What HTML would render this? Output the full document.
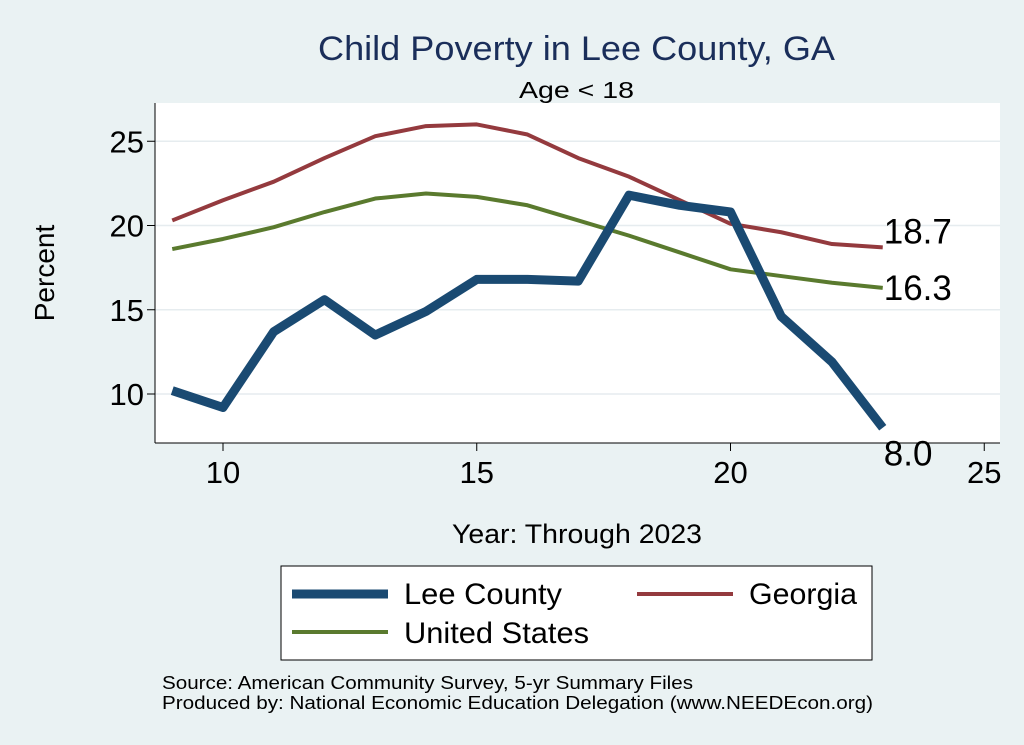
<!DOCTYPE html>
<html><head><meta charset="utf-8"><style>
body{margin:0;background:#eaf2f3;}
svg{display:block;font-family:"Liberation Sans",sans-serif;}
</style></head><body>
<svg id="c" width="1024" height="745">
<rect x="0" y="0" width="1024" height="745" fill="#eaf2f3"/>
<text x="318" y="60" font-size="34" fill="#1a2e5a" textLength="517" lengthAdjust="spacingAndGlyphs">Child Poverty in Lee County, GA</text>
<rect x="155" y="103" width="845" height="340" fill="#fff"/>
<text x="519" y="98" font-size="23" fill="#000" textLength="115" lengthAdjust="spacingAndGlyphs">Age &lt; 18</text>
<g id="grid"></g>
<line x1="155" y1="103" x2="155" y2="443" stroke="#000" stroke-width="1"/>
<line x1="155" y1="443" x2="1000" y2="443" stroke="#000" stroke-width="1"/>
<g id="ticks"></g>
<g id="series"></g>
<text x="54" y="273" font-size="28" text-anchor="middle" transform="rotate(-90 54 273)">Percent</text>
<text x="452" y="543" font-size="27" textLength="250" lengthAdjust="spacingAndGlyphs">Year: Through 2023</text>
<g>
<rect x="281" y="566" width="591" height="94" fill="#fff" stroke="#000" stroke-width="1"/>
<line x1="292" y1="594" x2="388" y2="594" stroke="#1a4a72" stroke-width="9"/>
<text x="404" y="604" font-size="30" textLength="158" lengthAdjust="spacingAndGlyphs">Lee County</text>
<line x1="637" y1="594" x2="733" y2="594" stroke="#943a3e" stroke-width="4"/>
<text x="749" y="604" font-size="30" textLength="108" lengthAdjust="spacingAndGlyphs">Georgia</text>
<line x1="292" y1="632" x2="388" y2="632" stroke="#5a7a2e" stroke-width="4"/>
<text x="404" y="643" font-size="30" textLength="185" lengthAdjust="spacingAndGlyphs">United States</text>
</g>
<text x="162" y="689" font-size="18" textLength="531" lengthAdjust="spacingAndGlyphs">Source: American Community Survey, 5-yr Summary Files</text>
<text x="162" y="709" font-size="18" textLength="711" lengthAdjust="spacingAndGlyphs">Produced by: National Economic Education Delegation (www.NEEDEcon.org)</text>
</svg>
<script>
const years=[9,10,11,12,13,14,15,16,17,18,19,20,21,22,23];
const lee=[10.2,9.2,13.7,15.6,13.5,14.9,16.8,16.8,16.7,21.8,21.2,20.8,14.6,11.9,8.0];
const georgia=[20.3,21.5,22.6,24.0,25.3,25.9,26.0,25.4,24.0,22.9,21.5,20.1,19.6,18.9,18.7];
const us=[18.6,19.2,19.9,20.8,21.6,21.9,21.7,21.2,20.3,19.4,18.4,17.4,17.0,16.6,16.3];
const xTicks=[10,15,20,25];
const yTicks=[10,15,20,25];
const xs=v=>223+(v-10)*50.75;
const ys=v=>394-(v-10)*16.85;
const NS="http://www.w3.org/2000/svg";
const grid=document.getElementById('grid'),ticks=document.getElementById('ticks'),ser=document.getElementById('series');
function mk(tag,at,par){const e=document.createElementNS(NS,tag);for(const k in at)e.setAttribute(k,at[k]);par.appendChild(e);return e;}
yTicks.forEach(t=>{
 const g=mk('line',{x1:155,x2:1000,y1:ys(t),y2:ys(t),stroke:'#e6ecef','stroke-width':1.5},grid);
 
 
 const tk=mk('line',{x1:147,x2:155,y1:ys(t),y2:ys(t),stroke:'#000'},ticks);
 
 
 const tx=mk('text',{x:144,y:ys(t)+11,'font-size':31,'text-anchor':'end'},ticks);tx.textContent=t;
 
 
});
xTicks.forEach(t=>{
 const tk=mk('line',{x1:xs(t),x2:xs(t),y1:443,y2:451,stroke:'#000'},ticks);
 
 
 const tx=mk('text',{x:xs(t),y:483,'font-size':31,'text-anchor':'middle'},ticks);tx.textContent=t;
 
 
});
function line(vals,color,w,name){
 const p=mk('polyline',{points:vals.map((v,i)=>xs(years[i])+','+ys(v)).join(' '),fill:'none',stroke:color,'stroke-width':w,'stroke-linejoin':'round'},ser);
 
 
}
line(georgia,'#943a3e',4,'georgia-line');
line(us,'#5a7a2e',4,'us-line');
line(lee,'#1a4a72',9,'lee-county-line');
function lab(vals,dy,name){
 const n=vals.length-1;
 const t=mk('text',{x:xs(years[n])+1,y:ys(vals[n])+dy,'font-size':35},ser);t.textContent=vals[n].toFixed(1);
 
 
}
lab(georgia,-4,'georgia-end-label');
lab(us,12,'us-end-label');
lab(lee,38,'lee-end-label');
</script>
</body></html>
